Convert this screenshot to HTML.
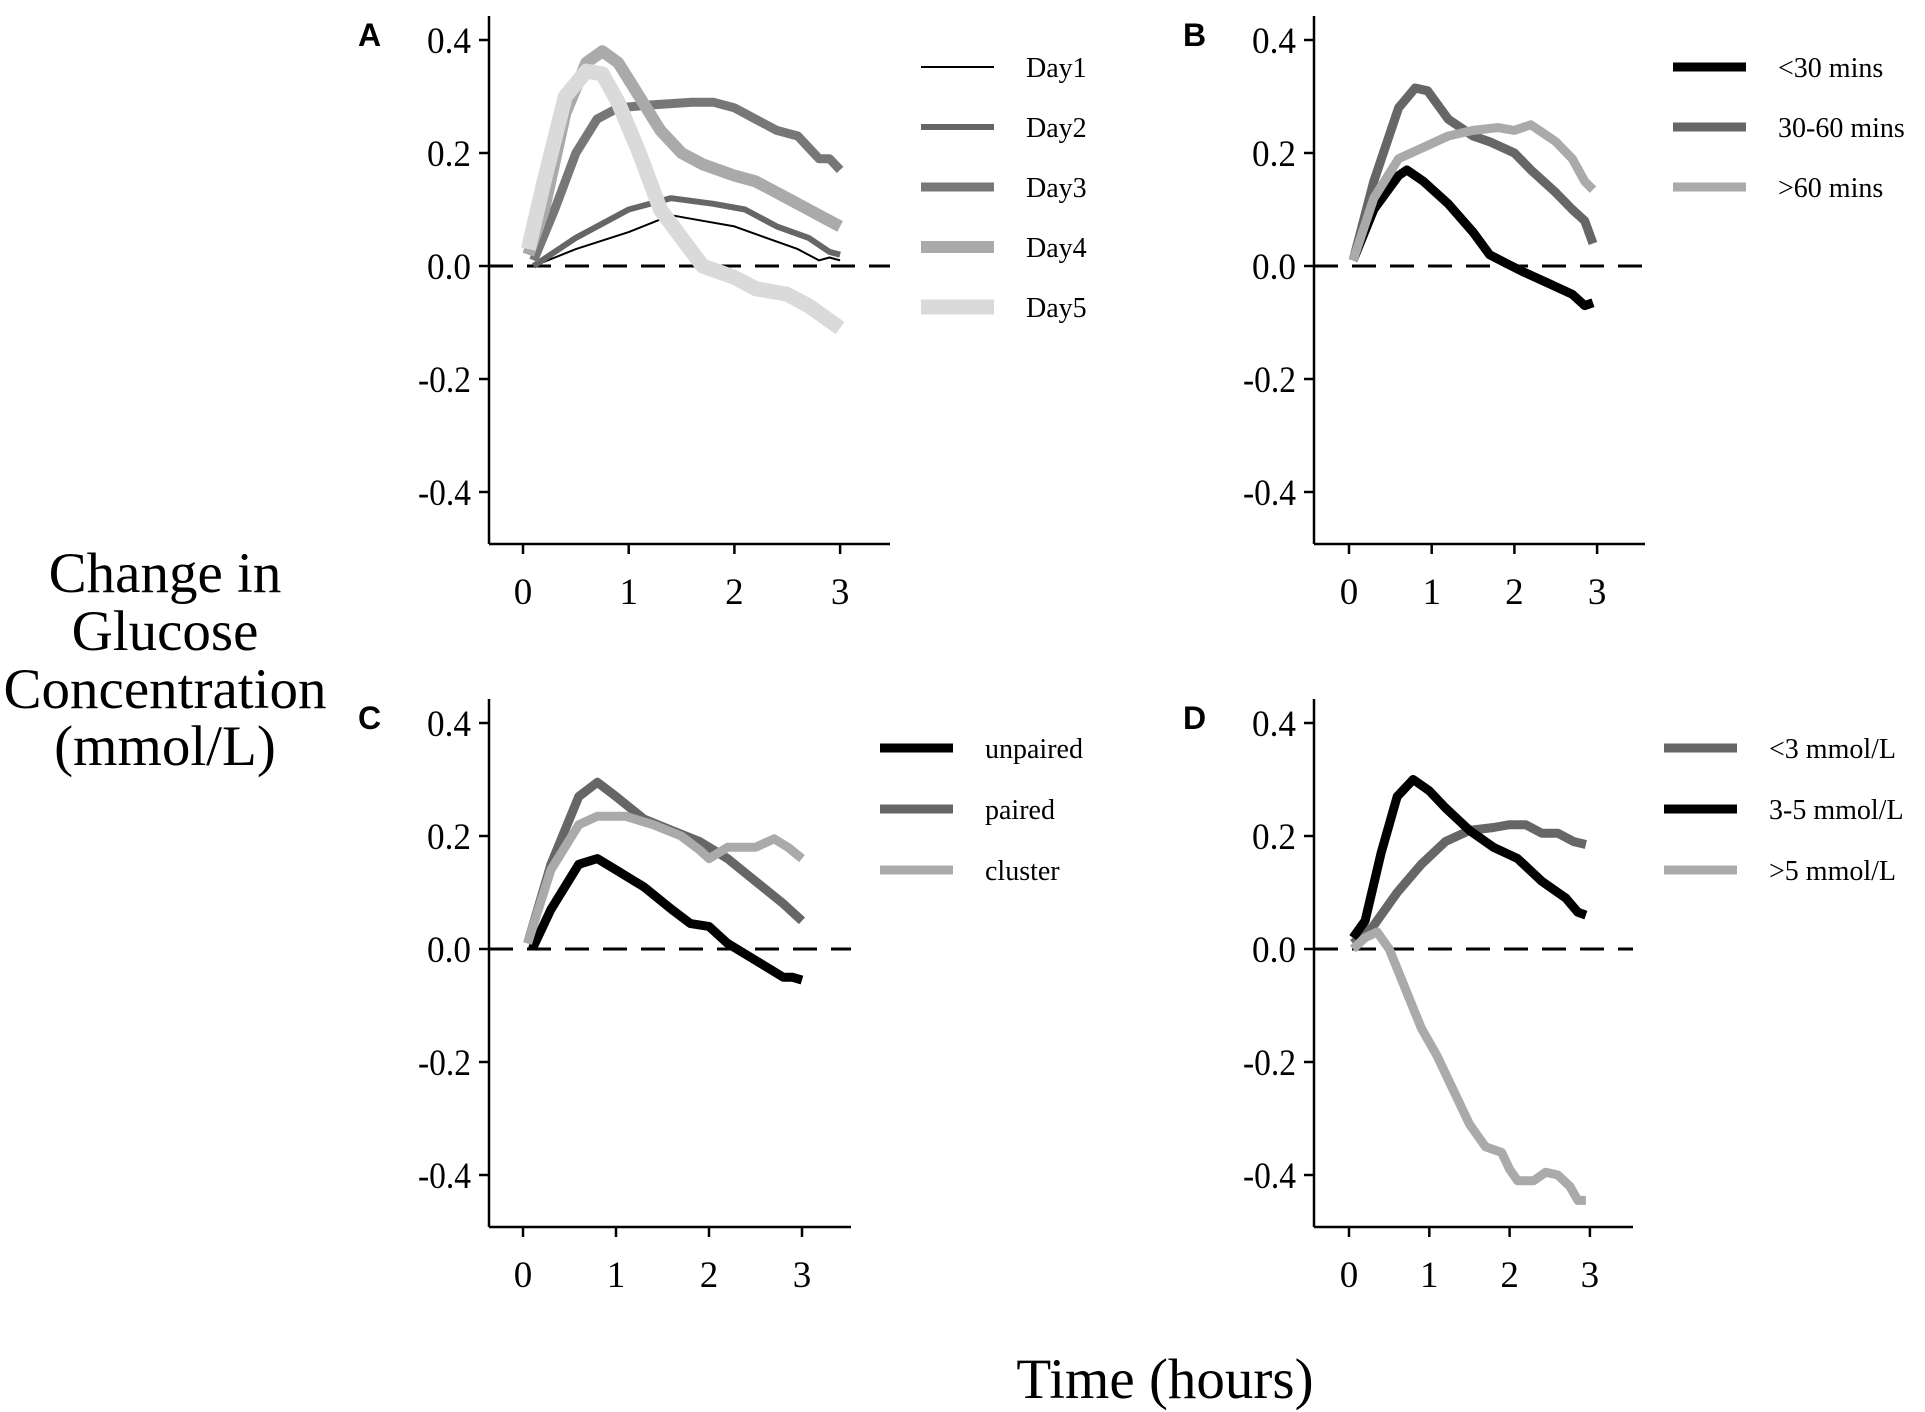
<!DOCTYPE html>
<html><head><meta charset="utf-8"><style>
html,body{margin:0;padding:0;background:#fff;}
svg{display:block;}
text{font-family:"Liberation Serif",serif;fill:#000;}
.lbl{font-family:"Liberation Sans",sans-serif;font-weight:bold;}
</style></head><body>
<svg id="fig" width="1925" height="1412" viewBox="0 0 1925 1412" xmlns="http://www.w3.org/2000/svg">
<text x="165" y="592" font-size="57" text-anchor="middle">Change in</text>
<text x="165" y="650" font-size="57" text-anchor="middle">Glucose</text>
<text x="165" y="708" font-size="57" text-anchor="middle">Concentration</text>
<text x="165" y="765" font-size="57" text-anchor="middle">(mmol/L)</text>
<text x="1165" y="1398" font-size="57" text-anchor="middle">Time (hours)</text>
</svg>
<script>
const yTicks=[0.4,0.2,0.0,-0.2,-0.4];
const yTickLabels=["0.4","0.2","0.0","-0.2","-0.4"];
const xTicks=[0,1,2,3];
const xTickLabels=["0","1","2","3"];

const aNames=["Day1","Day2","Day3","Day4","Day5"];
const aDay1X=[0.1,0.5,1,1.4,1.7,2,2.3,2.6,2.8,2.9,3];
const aDay1Y=[0,0.03,0.06,0.09,0.08,0.07,0.05,0.03,0.01,0.015,0.01];
const aDay2X=[0.1,0.5,1,1.4,1.8,2.1,2.4,2.7,2.9,3];
const aDay2Y=[0,0.05,0.10,0.12,0.11,0.10,0.07,0.05,0.025,0.02];
const aDay3X=[0.1,0.3,0.5,0.7,0.9,1.2,1.6,1.8,2,2.2,2.4,2.6,2.8,2.9,3];
const aDay3Y=[0.01,0.10,0.2,0.26,0.28,0.285,0.29,0.29,0.28,0.26,0.24,0.23,0.19,0.19,0.17];
const aDay4X=[0.05,0.2,0.4,0.6,0.75,0.9,1.1,1.3,1.5,1.7,2,2.2,2.5,2.7,2.9,3];
const aDay4Y=[0.02,0.1,0.27,0.36,0.38,0.36,0.3,0.24,0.2,0.18,0.16,0.15,0.12,0.1,0.08,0.07];
const aDay5X=[0.05,0.2,0.4,0.6,0.75,0.9,1.1,1.3,1.5,1.7,2,2.2,2.5,2.7,3];
const aDay5Y=[0.03,0.15,0.3,0.345,0.34,0.29,0.2,0.1,0.05,0.0,-0.02,-0.04,-0.05,-0.07,-0.11];

const bNames=["<30 mins","30-60 mins",">60 mins"];
const bS1X=[0.05,0.3,0.6,0.7,0.9,1.2,1.5,1.7,1.9,2.1,2.4,2.7,2.85,2.95];
const bS1Y=[0.01,0.1,0.16,0.17,0.15,0.11,0.06,0.02,0.005,-0.01,-0.03,-0.05,-0.07,-0.065];
const bS2X=[0.05,0.3,0.6,0.8,0.95,1.2,1.5,1.7,2,2.2,2.5,2.7,2.85,2.95];
const bS2Y=[0.01,0.15,0.28,0.315,0.31,0.26,0.23,0.22,0.2,0.17,0.13,0.1,0.08,0.04];
const bS3X=[0.05,0.3,0.6,0.9,1.2,1.5,1.8,2,2.2,2.5,2.7,2.85,2.95];
const bS3Y=[0.01,0.12,0.19,0.21,0.23,0.24,0.245,0.24,0.25,0.22,0.19,0.15,0.135];

const cNames=["unpaired","paired","cluster"];
const cS1X=[0.1,0.3,0.6,0.8,1,1.3,1.6,1.8,2,2.2,2.5,2.8,2.9,3];
const cS1Y=[0,0.07,0.15,0.16,0.14,0.11,0.07,0.045,0.04,0.01,-0.02,-0.05,-0.05,-0.055];
const cS2X=[0.05,0.3,0.6,0.8,1,1.3,1.6,1.9,2.2,2.5,2.8,3];
const cS2Y=[0.01,0.15,0.27,0.295,0.27,0.23,0.21,0.19,0.16,0.12,0.08,0.05];
const cS3X=[0.05,0.3,0.6,0.8,1.1,1.4,1.7,1.9,2,2.2,2.5,2.7,2.85,3];
const cS3Y=[0.01,0.14,0.22,0.235,0.235,0.22,0.2,0.175,0.16,0.18,0.18,0.195,0.18,0.16];

const dNames=["<3 mmol/L","3-5 mmol/L",">5 mmol/L"];
const dS1X=[0.05,0.3,0.6,0.9,1.2,1.5,1.8,2,2.2,2.4,2.6,2.8,2.95];
const dS1Y=[0.01,0.04,0.1,0.15,0.19,0.21,0.215,0.22,0.22,0.205,0.205,0.19,0.185];
const dS2X=[0.05,0.2,0.4,0.6,0.8,1,1.2,1.5,1.8,2.1,2.4,2.7,2.85,2.95];
const dS2Y=[0.02,0.05,0.17,0.27,0.3,0.28,0.25,0.21,0.18,0.16,0.12,0.09,0.065,0.06];
const dS3X=[0.05,0.2,0.35,0.5,0.7,0.9,1.1,1.3,1.5,1.7,1.9,2.0,2.1,2.3,2.45,2.6,2.75,2.85,2.95];
const dS3Y=[0,0.02,0.03,0.0,-0.07,-0.14,-0.19,-0.25,-0.31,-0.35,-0.36,-0.39,-0.41,-0.41,-0.395,-0.4,-0.42,-0.445,-0.445];

const NS="http://www.w3.org/2000/svg";
const svg=document.getElementById('fig');
function mk(tag,attrs,parent){const e=document.createElementNS(NS,tag);for(const k in attrs)e.setAttribute(k,attrs[k]);(parent||svg).appendChild(e);return e;}

function panel(cfg){
  const g=mk('g',{});
  
  
  const sx=v=>cfg.x0+v*cfg.px;
  const sy=v=>cfg.y0-v*565;
  const lt=mk('text',{x:cfg.ax-131,y:cfg.y0-232+12,'font-size':32,class:'lbl'},g);
  lt.textContent=cfg.id;
  
  
  const ya=mk('line',{x1:cfg.ax,y1:cfg.y0-250,x2:cfg.ax,y2:cfg.y0+278,stroke:'#000','stroke-width':2.5},g);
  
  
  const xa=mk('line',{x1:cfg.ax,y1:cfg.y0+278,x2:cfg.axEnd,y2:cfg.y0+278,stroke:'#000','stroke-width':2.5},g);
  
  
  yTicks.forEach((t,i)=>{
    mk('line',{x1:cfg.ax-10,y1:sy(t),x2:cfg.ax,y2:sy(t),stroke:'#000','stroke-width':2.5},g);
    const tx=mk('text',{x:cfg.ax-18,y:sy(t)+13,'font-size':37,'text-anchor':'end',textLength:t<0?53:44,lengthAdjust:'spacingAndGlyphs'},g);
    tx.textContent=yTickLabels[i];
    
    
  });
  xTicks.forEach((t,i)=>{
    mk('line',{x1:sx(t),y1:cfg.y0+278,x2:sx(t),y2:cfg.y0+288,stroke:'#000','stroke-width':2.5},g);
    const tx=mk('text',{x:sx(t),y:cfg.y0+338,'font-size':37,'text-anchor':'middle'},g);
    tx.textContent=xTickLabels[i];
    
    
  });
  const zl=mk('line',{x1:cfg.ax,y1:sy(0),x2:cfg.axEnd,y2:sy(0),stroke:'#000','stroke-width':3,'stroke-dasharray':'24 14'},g);
  
  
  cfg.series.forEach((s,i)=>{
    const pts=s.xs.map((x,j)=>sx(x).toFixed(1)+','+sy(s.ys[j]).toFixed(1)).join(' ');
    const pl=mk('polyline',{points:pts,fill:'none',stroke:s.c,'stroke-width':s.w,'stroke-linejoin':'round','stroke-linecap':'butt'},g);
    
    
    const ly=cfg.legY+i*cfg.legDy;
    const ll=mk('line',{x1:cfg.legX,y1:ly,x2:cfg.legX+73,y2:ly,stroke:s.c,'stroke-width':s.lw||s.w},g);
    
    
    const lx=mk('text',{x:cfg.legX+105,y:ly+10,'font-size':28},g);
    lx.textContent=cfg.names[i];
    
    
  });
}
const top0=266, bot0=949;
panel({id:'A',ax:489,axEnd:890,x0:523,px:105.7,y0:top0,legX:921,legY:67,legDy:60,names:aNames,series:[
 {xs:aDay1X,ys:aDay1Y,c:'#000',w:2},
 {xs:aDay2X,ys:aDay2Y,c:'#666',w:6},
 {xs:aDay3X,ys:aDay3Y,c:'#777',w:9},
 {xs:aDay4X,ys:aDay4Y,c:'#aaa',w:12},
 {xs:aDay5X,ys:aDay5Y,c:'#dadada',w:15}]});
panel({id:'B',ax:1314,axEnd:1645,x0:1349,px:82.7,y0:top0,legX:1673,legY:67,legDy:60,names:bNames,series:[
 {xs:bS1X,ys:bS1Y,c:'#000',w:9},
 {xs:bS2X,ys:bS2Y,c:'#666',w:9},
 {xs:bS3X,ys:bS3Y,c:'#aaa',w:9}]});
panel({id:'C',ax:489,axEnd:851,x0:523,px:93,y0:bot0,legX:880,legY:748,legDy:61,names:cNames,series:[
 {xs:cS1X,ys:cS1Y,c:'#000',w:9},
 {xs:cS2X,ys:cS2Y,c:'#666',w:9},
 {xs:cS3X,ys:cS3Y,c:'#aaa',w:9}]});
panel({id:'D',ax:1314,axEnd:1633,x0:1349,px:80.3,y0:bot0,legX:1664,legY:748,legDy:61,names:dNames,series:[
 {xs:dS1X,ys:dS1Y,c:'#666',w:9},
 {xs:dS2X,ys:dS2Y,c:'#000',w:9},
 {xs:dS3X,ys:dS3Y,c:'#aaa',w:9}]});
</script>
</body></html>
